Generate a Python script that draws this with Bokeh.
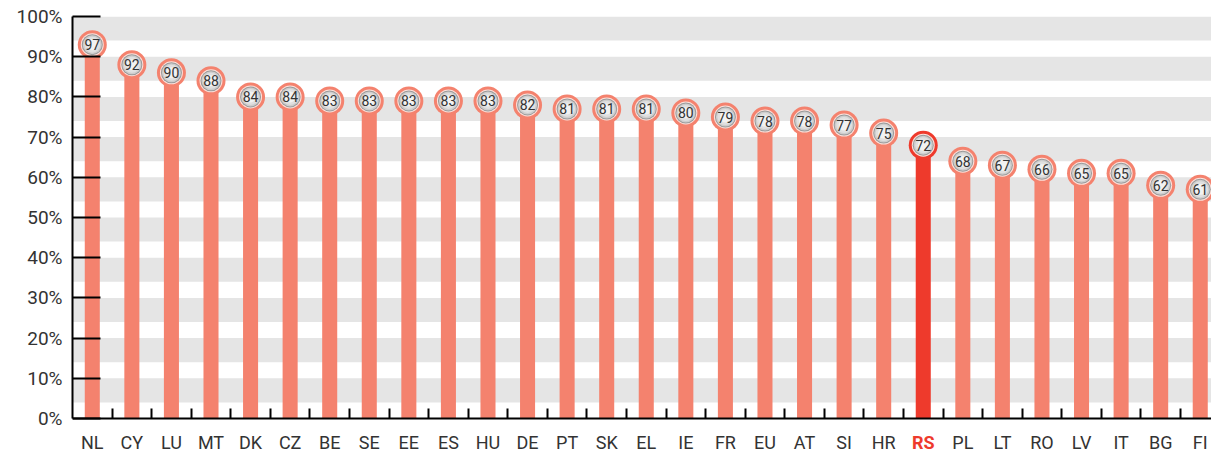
from bokeh.plotting import figure
from bokeh.models import Range1d, FixedTicker, BoxAnnotation, ColumnDataSource
from bokeh.core.properties import value
from bokeh.embed import file_html
from bokeh.resources import INLINE

countries = ["NL", "CY", "LU", "MT", "DK", "CZ", "BE", "SE", "EE", "ES", "HU", "DE", "PT", "SK",
             "EL", "IE", "FR", "EU", "AT", "SI", "HR", "RS", "PL", "LT", "RO", "LV", "IT", "BG", "FI"]
values = [97, 92, 90, 88, 84, 84, 83, 83, 83, 83, 83, 82, 81, 81,
          81, 80, 79, 78, 78, 77, 75, 72, 68, 67, 66, 65, 65, 62, 61]
highlight = "RS"
y_ticks = [0, 10, 20, 30, 40, 50, 60, 70, 80, 90, 100]
y_tick_labels = ["0%", "10%", "20%", "30%", "40%", "50%", "60%", "70%", "80%", "90%", "100%"]

FONT = "Roboto"
SALMON = "#F4826E"
RED = "#EE3A2C"
TXT = "#333333"

n = len(countries)
centers = [i + 0.5 for i in range(n)]
# marker sits inside the top of the bar (about 4 points below the value)
marker_y = [v - 4 for v in values]
colors = [RED if c == highlight else SALMON for c in countries]
lab_colors = [RED if c == highlight else TXT for c in countries]
lab_styles = ["bold" if c == highlight else "normal" for c in countries]

src = ColumnDataSource(dict(x=centers, top=marker_y, val=[str(v) for v in values],
                            color=colors, country=countries, lab_color=lab_colors,
                            lab_style=lab_styles))

PX = 4.02  # pixels per percentage point
p = figure(width=1211, height=454, x_range=Range1d(0, 1139 / 39.57),
           y_range=Range1d(-36 / PX, 100),
           output_backend="svg", toolbar_location=None,
           min_border_left=72, min_border_right=0, min_border_top=16, min_border_bottom=0)
p.outline_line_color = None
p.xgrid.visible = False
p.ygrid.visible = False
p.background_fill_color = "white"

# grey bands below each gridline
for t in y_ticks[1:]:
    p.add_layout(BoxAnnotation(bottom=t - 6, top=t, fill_color="#E5E5E5", fill_alpha=1.0,
                               line_color=None, level="underlay"))

p.vbar(x="x", top="top", bottom=0, width=0.38, fill_color="color", line_color=None, source=src)

p.scatter(x="x", y="top", size=29, fill_color="color", line_color=None, source=src)
p.scatter(x="x", y="top", size=23, fill_color="#FCE0DA", line_color=None, source=src)
p.scatter(x="x", y="top", size=21, fill_color="#9a9a9a", line_color=None, source=src)
p.scatter(x="x", y="top", size=19, fill_color="#cdcdcd", line_color=None, source=src)
p.scatter(x="x", y="top", size=16, fill_color="#e0e0e0", line_color=None, source=src)
p.scatter(x="x", y="top", size=11, fill_color="#f2f2f2", line_color=None, source=src)
p.text(x="x", y="top", text="val", text_align="center", text_baseline="middle",
       text_font=value(FONT), text_font_size="14px", text_color=TXT, source=src)

# category labels below the axis line
p.text(x="x", y=-24 / PX, text="country", text_align="center", text_baseline="middle",
       text_font=value(FONT), text_font_size="18px", text_color="lab_color",
       text_font_style="lab_style", source=src)

# y axis
ya = p.yaxis[0]
ya.ticker = FixedTicker(ticks=y_ticks, minor_ticks=[])
ya.bounds = (0, 100)
ya.major_label_overrides = {t: l for t, l in zip(y_ticks, y_tick_labels)}
ya.axis_line_color = "black"
ya.axis_line_width = 2
ya.major_tick_line_color = "black"
ya.major_tick_line_width = 2
ya.major_tick_in = 28
ya.major_tick_out = 0
ya.minor_tick_line_color = None
ya.major_label_standoff = 10
ya.major_label_text_font = FONT
ya.major_label_text_font_size = "19px"
ya.major_label_text_color = TXT

# x axis at 0: only short ticks at category boundaries
xa = p.xaxis[0]
xa.fixed_location = 0
xa.ticker = FixedTicker(ticks=[], minor_ticks=list(range(1, n)))
xa.major_label_standoff = 0
xa.axis_line_color = "black"
xa.axis_line_width = 2
xa.major_tick_line_color = None
xa.major_tick_in = 0
xa.major_tick_out = 0
xa.minor_tick_line_color = "black"
xa.minor_tick_line_width = 2
xa.minor_tick_in = 10
xa.minor_tick_out = 0

open("out.html", "w").write(file_html(p, INLINE))
